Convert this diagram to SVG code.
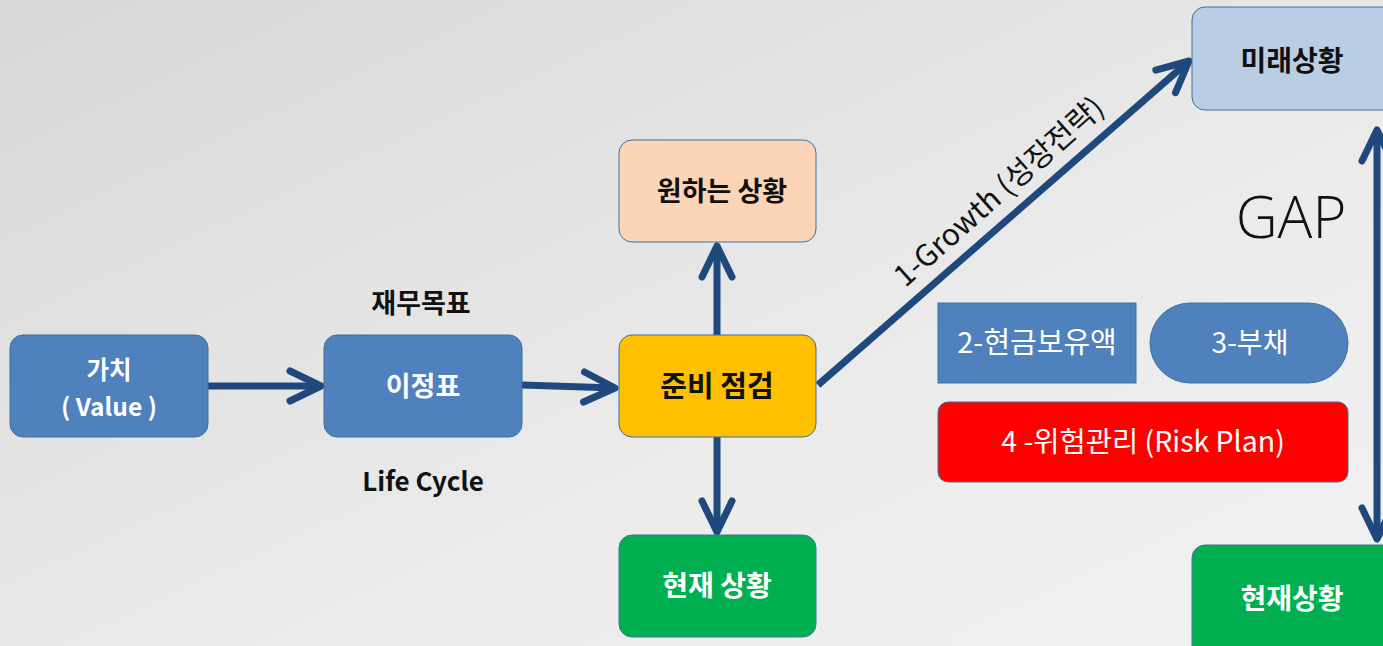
<svg xmlns="http://www.w3.org/2000/svg" width="1383" height="646" viewBox="0 0 1383 646">
  <defs>
    <linearGradient id="bg" x1="0" y1="0" x2="1" y2="1">
      <stop offset="0" stop-color="#d7d7d7"/>
      <stop offset="0.6" stop-color="#ebebeb"/>
      <stop offset="1" stop-color="#f2f2f2"/>
    </linearGradient>
    <marker id="head" markerUnits="userSpaceOnUse" markerWidth="60" markerHeight="60" refX="0" refY="0" orient="auto-start-reverse" overflow="visible">
      <path d="M-31,-15 L0,0 L-31,15" fill="none" stroke="#1f497d" stroke-width="7" stroke-linecap="round" stroke-linejoin="round"/>
    </marker>
    <style>
      .box { stroke: #41719c; stroke-width: 1; }
      .blue { fill: #4f81bd; }
      .t { font-family: "Noto Sans CJK KR", "Noto Sans", sans-serif; text-anchor: middle; }
      .b { font-weight: bold; }
      .w { fill: #ffffff; }
      .k { fill: #111111; }
      .conn { fill: none; stroke: #1f497d; stroke-width: 7; marker-end: url(#head); }
    </style>
  </defs>
  <rect x="0" y="0" width="1383" height="646" fill="url(#bg)"/>

  <g id="connectors">
    <line class="conn" x1="208" y1="386" x2="321" y2="386"/>
    <line class="conn" x1="522" y1="385" x2="615" y2="388"/>
    <line class="conn" x1="717" y1="335" x2="717" y2="246"/>
    <line class="conn" x1="717" y1="437" x2="717" y2="532"/>
    <line class="conn" x1="818" y1="385" x2="1189" y2="61"/>
    <line class="conn" x1="1377" y1="130" x2="1377" y2="539" style="marker-start:url(#head)"/>
    <text class="t k" font-size="30" transform="translate(999,192) rotate(-41.5)" dy="10">1-Growth (성장전략)</text>
  </g>

  <g id="n-value">
    <rect class="box blue" x="10" y="335" width="198" height="102" rx="13"/>
    <text class="t b w" font-size="24.5" x="109" y="379">가치</text>
    <text class="t b w" font-size="24.5" x="109" y="416">( Value )</text>
  </g>

  <g id="n-milestone">
    <rect class="box blue" x="324" y="335" width="198" height="102" rx="13"/>
    <text class="t b w" font-size="27" x="423" y="396">이정표</text>
  </g>

  <g id="lbl-goal">
    <text class="t b k" font-size="27" x="421" y="313">재무목표</text>
  </g>
  <g id="lbl-lifecycle">
    <text class="t b k" font-size="26" x="423" y="491">Life Cycle</text>
  </g>

  <g id="n-check">
    <rect class="box" fill="#ffc000" x="619" y="335" width="197" height="102" rx="13"/>
    <text class="t b k" font-size="29" x="717" y="397">준비 점검</text>
  </g>

  <g id="n-want">
    <rect class="box" fill="#fbd5b5" x="619" y="140" width="197" height="102" rx="13"/>
    <text class="t b k" font-size="27" x="722" y="201">원하는 상황</text>
  </g>

  <g id="n-now">
    <rect class="box" fill="#00b050" x="619" y="535" width="197" height="102" rx="13"/>
    <text class="t b w" font-size="28" x="717" y="596">현재 상황</text>
  </g>

  <g id="n-future">
    <rect class="box" fill="#b9cde5" x="1192" y="7" width="210" height="103" rx="13"/>
    <text class="t b k" font-size="28" x="1292" y="71">미래상황</text>
  </g>

  <g id="n-now2">
    <rect class="box" fill="#00b050" x="1192" y="545" width="210" height="120" rx="13"/>
    <text class="t b w" font-size="28" x="1292" y="609">현재상황</text>
  </g>

  <g id="lbl-gap">
    <text x="1291" y="238" font-family="'Open Sans', 'Noto Sans', sans-serif" font-weight="300" font-size="58" text-anchor="middle" fill="#111111">GAP</text>
  </g>

  <g id="n-cash">
    <rect class="box blue" x="938" y="303" width="198" height="80"/>
    <text class="t w" font-size="29" x="1037" y="353">2-현금보유액</text>
  </g>

  <g id="n-debt">
    <rect class="box blue" x="1150" y="303" width="198" height="80" rx="40"/>
    <text class="t w" font-size="28" x="1250" y="353">3-부채</text>
  </g>

  <g id="n-risk">
    <rect class="box" fill="#ff0000" x="938" y="402" width="410" height="80" rx="10"/>
    <text class="t w" font-size="28.5" x="1143" y="452">4 -위험관리 (Risk Plan)</text>
  </g>
</svg>
